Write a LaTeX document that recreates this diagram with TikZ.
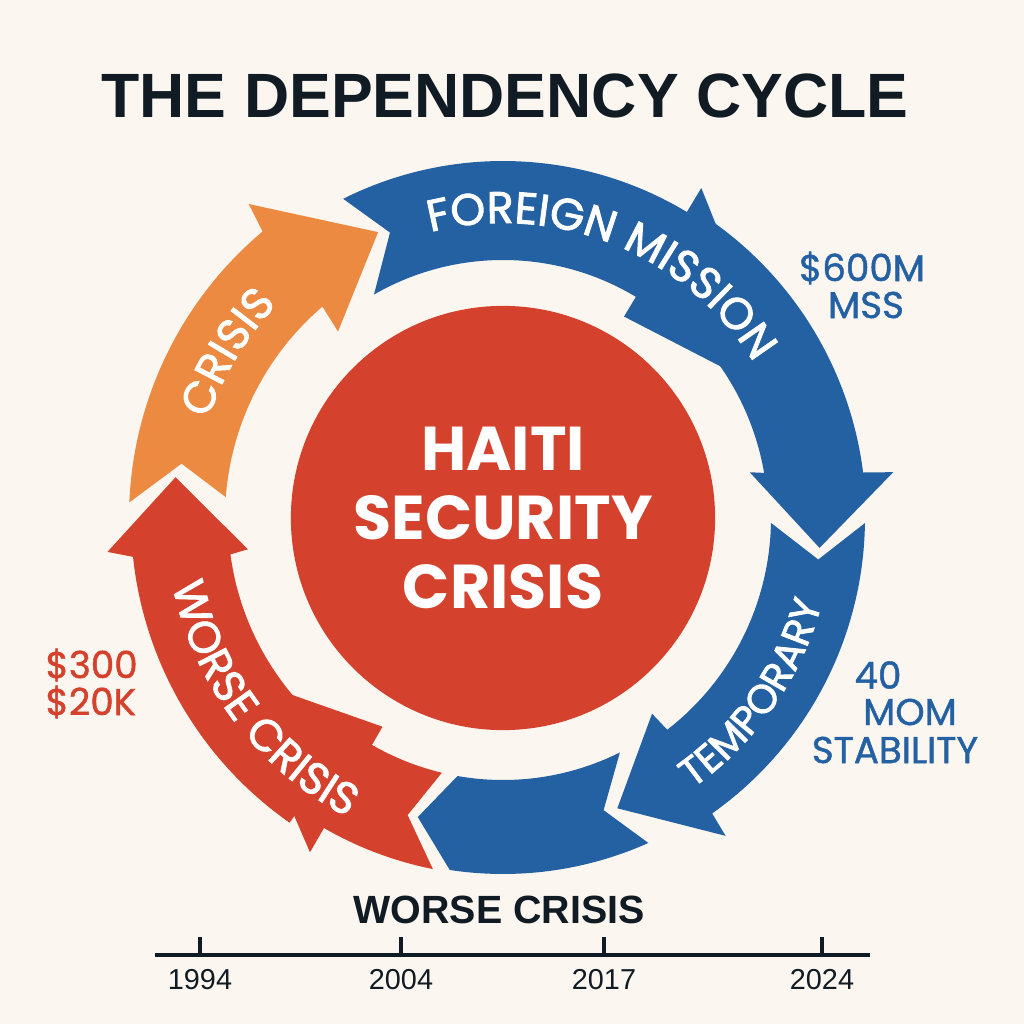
\documentclass[tikz,border=0pt]{standalone}
\usepackage{fontspec}
\setmainfont{Poppins}
\newfontfamily\headfont{Liberation Sans}
\newfontfamily\medfont{Poppins}[FakeBold=2]
\newfontfamily\sidefont{Poppins}[FakeBold=1.2]
\usetikzlibrary{decorations.text}

\definecolor{cream}{HTML}{FBF6F0}
\definecolor{cycblue}{HTML}{2461A3}
\definecolor{cycred}{HTML}{D4412C}
\definecolor{cycorange}{HTML}{EC8A42}
\definecolor{ink}{HTML}{111B24}

\newcommand\arcfont{\medfont\fontsize{12.6}{14}\selectfont}
\newcommand\smallarcfont{\medfont\fontsize{11.4}{13}\selectfont}

\tikzset{
  arclabel/.style={decorate, decoration={text along path, text align=center,
      text color=white, text={|\arcfont|#1}}},
  smallarclabel/.style={decorate, decoration={text along path, text align=center,
      text color=white, text={|\smallarcfont|#1}}},
  sidelabel/.style={font=\sidefont\fontsize{10.6}{12}\selectfont, inner sep=0pt},
  yearlabel/.style={font=\headfont\fontsize{8.2}{10}\selectfont, text=ink, inner sep=0pt},
  tick/.style={draw=ink, line width=0.9pt},
}

\begin{document}
\begin{tikzpicture}[x=0.01cm, y=0.01cm]
\fill[cream] (-503,-506) rectangle (521,518);
\useasboundingbox (-503,-506) rectangle (521,518);

% title
\node (title) at (2,422) {\headfont\bfseries\fontsize{17.8}{20}\selectfont\color{ink}THE DEPENDENCY CYCLE};

% the cycle
\fill[cycorange] (177.6:374) arc[start angle=177.6, end angle=130, radius=374] -- (129:404)
  -- (113.6:312) -- (131.5:249) -- (130.5:278) arc[start angle=130.5, end angle=175.7, radius=278]
  -- (170.4:326) -- cycle;
\fill[cycblue] (116.6:357) arc[start angle=116.6, end angle=59, radius=357] -- (59:385)
  -- (22.5:307) -- (59:235) -- (59:258) arc[start angle=59, end angle=120, radius=258]
  -- (111.6:307) -- cycle;
\fill[cycblue] (55:363) arc[start angle=55, end angle=7.2, radius=363] -- (6.7:393)
  -- (-5.4:318) -- (10.5:251) -- (9.8:265) arc[start angle=9.8, end angle=55, radius=265] -- cycle;
\fill[cycblue] (-0.8:362) arc[start angle=-0.8, end angle=-54.7, radius=362] -- (-55:388)
  -- (-68.5:312) -- (-52.7:246) -- (-52.2:268) arc[start angle=-52.2, end angle=-1.05, radius=268]
  -- (-7.5:318) -- cycle;
\fill[cycblue] (-65.9:356) arc[start angle=-65.9, end angle=-98.6, radius=356]
  -- (-105.9:311) -- (-100:262) arc[start angle=-100, end angle=-63.5, radius=262]
  -- (-71:309) -- cycle;
\fill[cycred] (-101.3:358) arc[start angle=-101.3, end angle=-120, radius=358] -- (-120:386)
  -- (-150:312) -- (-120:241) -- (-120:262) arc[start angle=-120, end angle=-103.5, radius=262]
  -- (-107.8:312) -- cycle;
\fill[cycred] (-125:372) arc[start angle=-125, end angle=-174, radius=372] -- (-175.1:397)
  -- (-187.1:330) -- (-173:257) -- (-172.4:275) arc[start angle=-172.4, end angle=-125, radius=275]
  -- cycle;

% texts on the arrows
\path[arclabel=CRISIS] (175:311) arc[start angle=175, end angle=123, radius=311];
\path[arclabel=FOREIGN MISSION] (118:295) arc[start angle=118, end angle=18, radius=295];
\path[smallarclabel=TEMPORARY] (-65:330) arc[start angle=-65, end angle=-5, radius=330];
\path[arclabel=WORSE CRISIS] (-183:337) arc[start angle=-183, end angle=-103, radius=337];

% centre
\node (hub) [circle, fill=cycred, minimum size=4.24cm, inner sep=0pt, align=center,
  text=white, font=\bfseries\fontsize{17.6}{19.6}\selectfont] at (0,0) {HAITI\\SECURITY\\CRISIS};

% side notes
\node (cost) [sidelabel, text=cycblue] at (359,250) {\$600M};
\node (mss) [sidelabel, text=cycblue] at (363,213) {MSS};
\node (forty) [sidelabel, text=cycblue] at (375,-157) {40};
\node (mom) [sidelabel, text=cycblue] at (407,-194) {MOM};
\node (stab) [sidelabel, text=cycblue] at (392,-232) {STABILITY};
\node (cheap) [sidelabel, text=cycred, anchor=west] at (-458,-147) {\$300};
\node (dear) [sidelabel, text=cycred, anchor=west] at (-458,-184) {\$20K};

% timeline
\node (worse) at (-4,-392) {\headfont\bfseries\fontsize{11.2}{13}\selectfont\color{ink}WORSE CRISIS};
\coordinate (tlstart) at (-348,-437);
\coordinate (tlend) at (367,-437);
\draw[tick] (tlstart) -- (tlend);
\coordinate (t1) at (-303,-437);
\coordinate (t2) at (-102,-437);
\coordinate (t3) at (101,-437);
\coordinate (t4) at (319,-437);
\draw[tick] (t1) -- ++(0,18);
\draw[tick] (t2) -- ++(0,18);
\draw[tick] (t3) -- ++(0,18);
\draw[tick] (t4) -- ++(0,18);
\node (y1) [yearlabel] at (-303,-462) {1994};
\node (y2) [yearlabel] at (-102,-462) {2004};
\node (y3) [yearlabel] at (101,-462) {2017};
\node (y4) [yearlabel] at (319,-462) {2024};
\end{tikzpicture}
\end{document}
